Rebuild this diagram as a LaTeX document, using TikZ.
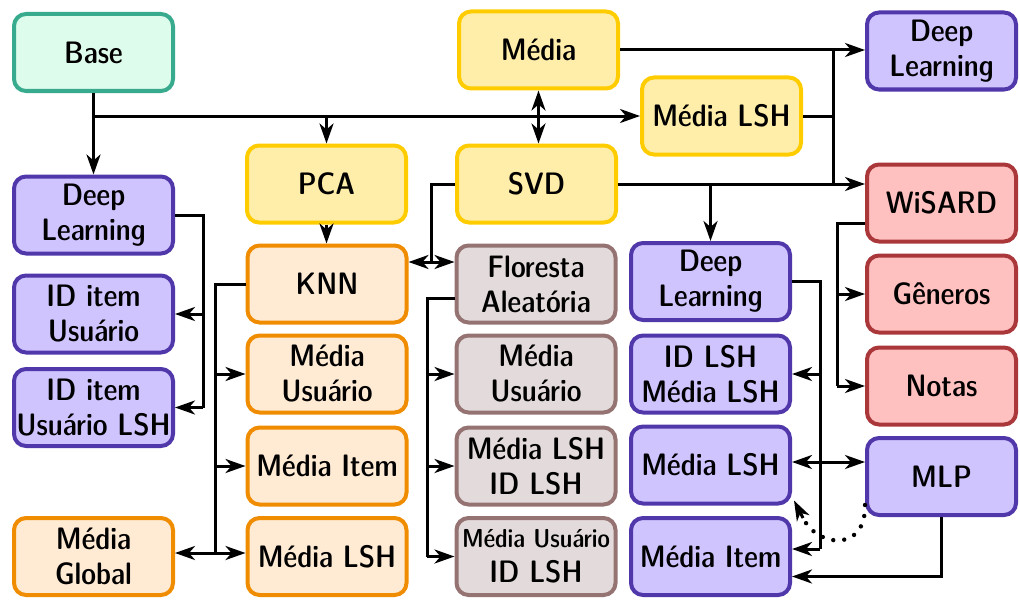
\documentclass[tikz,border=0pt]{standalone}
\usetikzlibrary{arrows.meta}
\definecolor{baseB}{RGB}{56,170,142}
\definecolor{baseF}{RGB}{222,252,236}
\definecolor{yelB}{RGB}{255,204,0}
\definecolor{yelF}{RGB}{255,238,170}
\definecolor{purB}{RGB}{80,56,170}
\definecolor{purF}{RGB}{208,196,255}
\definecolor{oraB}{RGB}{240,140,0}
\definecolor{oraF}{RGB}{255,234,212}
\definecolor{grayB}{RGB}{150,115,115}
\definecolor{grayF}{RGB}{227,219,219}
\definecolor{redB}{RGB}{170,55,58}
\definecolor{redF}{RGB}{255,192,192}
\newcommand{\boxfont}{\fontsize{15.5}{17.5}\selectfont\fontseries{sbc}\sffamily}
\tikzset{
  box/.style={rectangle, rounded corners=6pt, line width=2pt,
    minimum width=79.5pt, minimum height=38.5pt, inner sep=1pt,
    align=center, font=\boxfont},
  narrow/.style={minimum width=74.5pt},
  basebox/.style={box, draw=baseB, fill=baseF},
  yelbox/.style={box, draw=yelB, fill=yelF},
  purbox/.style={box, draw=purB, fill=purF},
  orabox/.style={box, draw=oraB, fill=oraF},
  graybox/.style={box, draw=grayB, fill=grayF},
  redbox/.style={box, draw=redB, fill=redF},
  wire/.style={line width=1.5pt},
  tip/.tip={Stealth[length=10pt, width=7pt, inset=3pt]},
  arr/.style={wire, -tip},
  darr/.style={wire, tip-tip},
  dotted link/.style={line width=2.2pt, line cap=round, dash pattern=on 0pt off 5.5pt}
}
\begin{document}
\begin{tikzpicture}[x=0.5pt, y=-0.5pt]
\useasboundingbox (0,0) rectangle (1020,599);

% top row and processing boxes
\node[basebox] (base) at (93.5,52.5) {Base};
\node[yelbox] (media) at (538.5,50) {Média};
\node[purbox, narrow] (dlr) at (941.5,51) {Deep\\Learning};
\node[yelbox] (mlshT) at (721.5,116) {Média LSH};
\node[yelbox] (pca) at (326.5,184) {PCA};
\node[yelbox] (svd) at (536.5,184) {SVD};
\node[redbox, narrow] (wis) at (941.5,203) {WiSARD};

% left column
\node[purbox] (dl1) at (93.5,215) {Deep\\Learning};
\node[purbox] (idu) at (93.5,314) {ID item\\Usuário};
\node[purbox] (idul) at (93.5,407.5) {ID item\\Usuário LSH};
\node[orabox] (mglob) at (93.5,556.5) {Média\\Global};

% KNN column
\node[orabox] (knn) at (327,284) {KNN};
\node[orabox] (muO) at (327,374) {Média\\Usuário};
\node[orabox] (miO) at (327,466) {Média Item};
\node[orabox] (mlO) at (327,556.5) {Média LSH};

% random forest column
\node[graybox] (flor) at (536,284) {Floresta\\Aleatória};
\node[graybox] (muG) at (536,374) {Média\\Usuário};
\node[graybox] (mlG) at (536,466) {Média LSH\\ID LSH};
\node[graybox] (muidG) at (536,556.5) {{\fontsize{13}{15}\selectfont Média Usuário}\\ID LSH};

% deep learning column
\node[purbox] (dl2) at (710.5,281.5) {Deep\\Learning};
\node[purbox] (idlsh) at (710.5,374) {ID LSH\\Média LSH};
\node[purbox] (mlP) at (710.5,465) {Média LSH};
\node[purbox] (miP) at (710.5,556.5) {Média Item};

% WiSARD / MLP column
\node[redbox, narrow] (gen) at (941.5,294) {Gêneros};
\node[redbox, narrow] (notas) at (941.5,386) {Notas};
\node[purbox, narrow] (mlp) at (941.5,476.5) {MLP};

% bus lines
\coordinate (bR) at (833,0);
\coordinate (bA) at (203,0);
\coordinate (bK) at (215,0);
\coordinate (bF) at (427,0);
\coordinate (bD) at (820,0);
\coordinate (bW) at (837,0);
\coordinate (kf) at (431,262);
\coordinate (kg) at (215,553);
\coordinate (dg) at (820,549);
\coordinate (ff) at (427,298);
\coordinate (ww) at (837,223);

% from Base
\draw[arr] (base.south) -- (dl1.north);
\draw[arr] (base.south |- mlshT.west) -- (mlshT.west);
\draw[arr] (pca.north |- mlshT.west) -- (pca.north);

% Média, Média LSH, SVD
\draw[darr] (media.south) -- (media.south |- svd.north);
\draw[arr] (media.east) -- (media.east -| dlr.west);
\draw[wire] (media.east -| bR) -- (svd.east -| bR);
\draw[wire] (mlshT.east) -- (mlshT.east -| bR);
\draw[arr] (svd.east) -- (svd.east -| wis.west);
\draw[arr] (svd.east -| dl2.north) -- (dl2.north);
\draw[wire] (svd.west) -| (kf);
\draw[arr] (kf) -- (kf -| knn.east);
\draw[arr] (kf) -- (kf -| flor.west);
\draw[arr] (pca.south) -- (pca.south |- knn.north);

% left Deep Learning
\draw[wire] (dl1.east) -- (dl1.east -| bA) -- (bA |- idul.east);
\draw[arr] (bA |- idu.east) -- (idu.east);
\draw[arr] (bA |- idul.east) -- (idul.east);

% KNN
\draw[wire] (knn.west) -| (kg);
\draw[arr] (bK |- muO.west) -- (muO.west);
\draw[arr] (bK |- miO.west) -- (miO.west);
\draw[arr] (kg) -- (kg -| mlO.west);
\draw[arr] (kg) -- (kg -| mglob.east);

% Floresta Aleatória
\draw[wire] (ff -| flor.west) -- (ff) -- (bF |- muidG.west);
\draw[arr] (bF |- muG.west) -- (muG.west);
\draw[arr] (bF |- mlG.west) -- (mlG.west);
\draw[arr] (bF |- muidG.west) -- (muidG.west);

% middle Deep Learning
\draw[wire] (dl2.east) -| (dg);
\draw[arr] (bD |- idlsh.east) -- (idlsh.east);
\draw[arr] (dg) -- (dg -| miP.east);

% WiSARD
\draw[wire] (ww -| wis.west) -- (ww) -- (bW |- notas.west);
\draw[arr] (bW |- gen.west) -- (gen.west);
\draw[arr] (bW |- notas.west) -- (notas.west);

% MLP
\draw[darr] ([yshift=1.5pt]mlP.east) -- ([yshift=1.5pt]mlP.east -| mlp.west);
\draw[arr] (mlp.south) |- ([yshift=-10pt]miP.east);

% dotted feedback from MLP to Média LSH
\coordinate (dS) at ([yshift=6pt]mlp.south west);
\coordinate (dE) at ([shift={(1pt,2.5pt)}]mlP.south east);
\coordinate (dT) at (803,518);
\draw[dotted link] (dS) .. controls (866,552) and (818,548) .. (dT);
\draw[arr] (dT) -- (dE);
\end{tikzpicture}
\end{document}
